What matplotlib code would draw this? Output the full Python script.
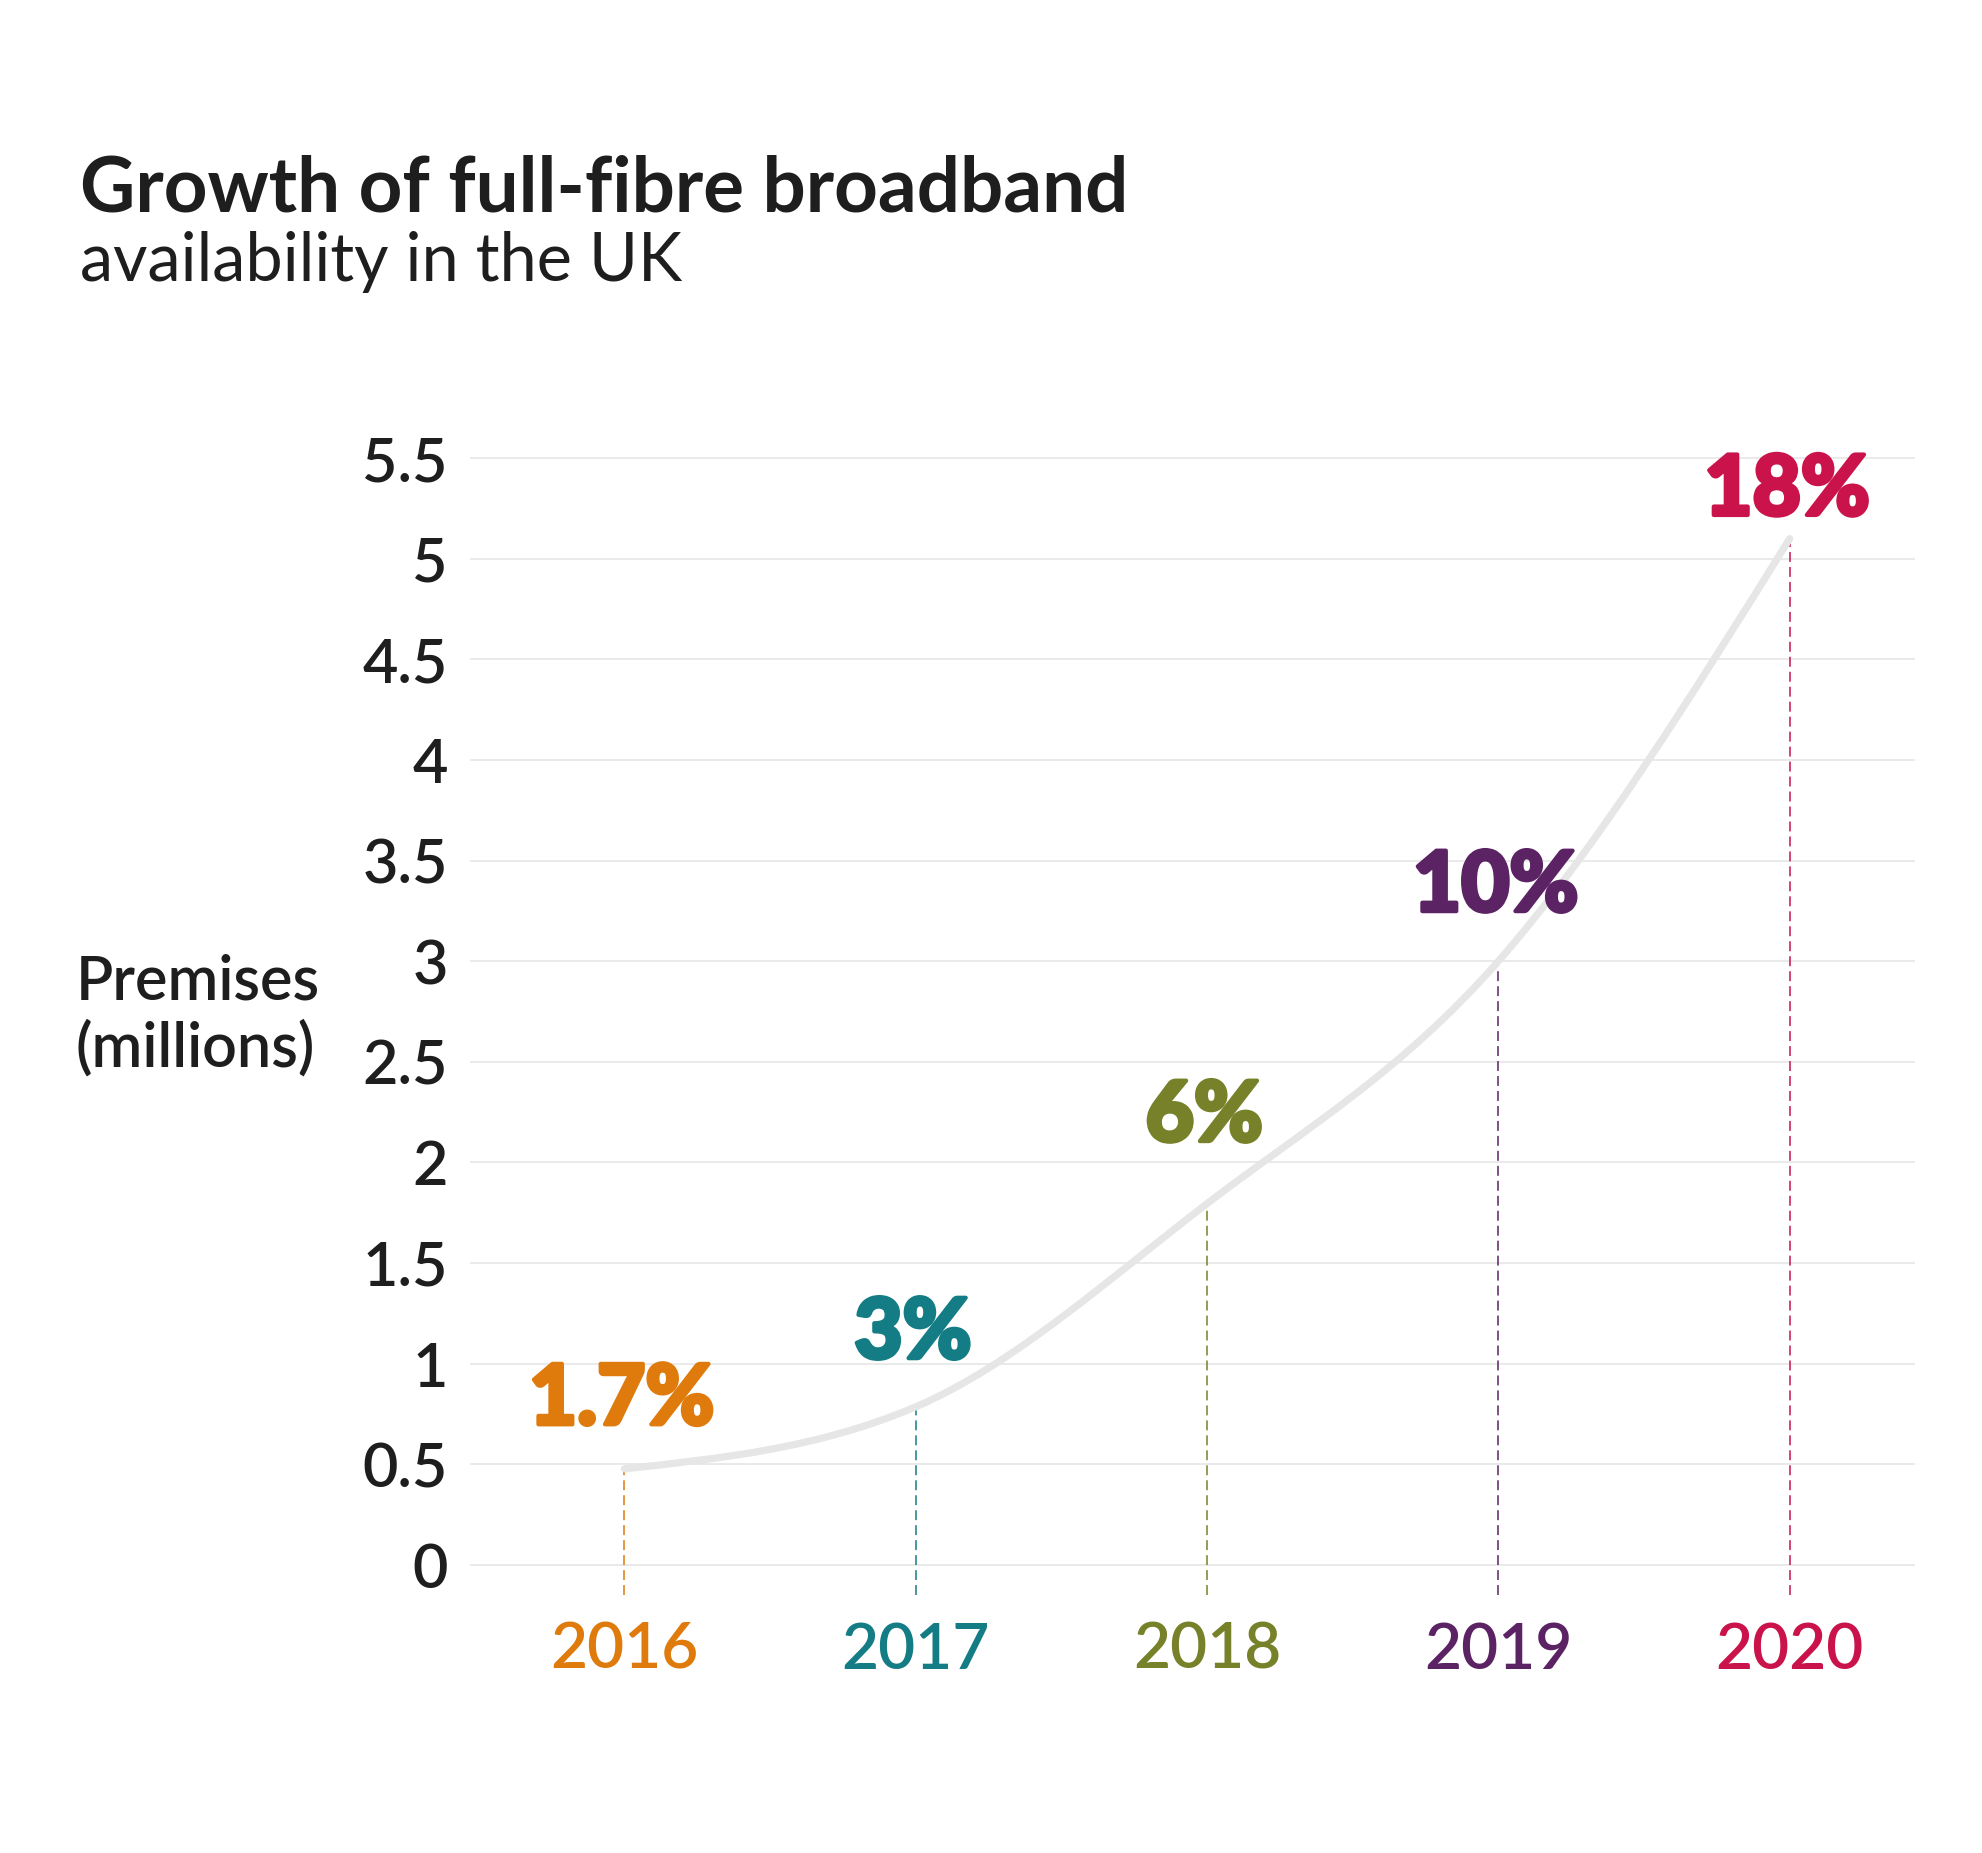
import matplotlib
matplotlib.use("Agg")
import matplotlib.pyplot as plt
import matplotlib.patheffects as pe
import numpy as np
from matplotlib.path import Path
from matplotlib.patches import PathPatch

# data
years = [2016, 2017, 2018, 2019, 2020]
premises_m = [0.477, 0.785, 1.795, 3.0, 5.10]
share_labels = ["1.7%", "3%", "6%", "10%", "18%"]
year_colors = ["#df7b0c", "#137c84", "#76812a", "#5b2363", "#c9134a"]
y_ticks = [0, 0.5, 1, 1.5, 2, 2.5, 3, 3.5, 4, 4.5, 5, 5.5]

TEXT = "#1e1e1e"
GRID = "#e6e6e6"
FONT = "Lato"


def monotone_path(xs, ys):
    """Monotone cubic (d3 curveMonotoneX style) as bezier path."""
    xs = np.asarray(xs, float)
    ys = np.asarray(ys, float)
    h = np.diff(xs)
    s = np.diff(ys) / h
    n = len(xs)
    t = np.zeros(n)
    for i in range(1, n - 1):
        p = (s[i - 1] * h[i] + s[i] * h[i - 1]) / (h[i - 1] + h[i])
        t[i] = (np.sign(s[i - 1]) + np.sign(s[i])) * min(abs(s[i - 1]), abs(s[i]), 0.5 * abs(p))
    t[0] = (3 * s[0] - t[1]) / 2
    t[-1] = (3 * s[-1] - t[-2]) / 2
    verts = [(xs[0], ys[0])]
    codes = [Path.MOVETO]
    for i in range(n - 1):
        dx = h[i] / 3
        verts += [(xs[i] + dx, ys[i] + dx * t[i]),
                  (xs[i + 1] - dx, ys[i + 1] - dx * t[i + 1]),
                  (xs[i + 1], ys[i + 1])]
        codes += [Path.CURVE4] * 3
    return Path(verts, codes)


W, H = 1982, 1853
fig = plt.figure(figsize=(W / 100, H / 100), dpi=100)
fig.patch.set_facecolor("white")

# axes placed in pixel terms
ax = fig.add_axes([470 / W, 1 - 1605 / H, 1445 / W, (1605 - 438) / H])
x = np.arange(len(years))
ax.set_xlim(-0.53, len(years) - 0.57)
ax.set_ylim(-0.2, 5.6)
for sp in ax.spines.values():
    sp.set_visible(False)

ax.set_yticks(y_ticks)
ax.set_yticklabels([f"{v:g}" for v in y_ticks], fontsize=44, color=TEXT,
                   family=FONT, fontweight="semibold")
ax.set_xticks(x)
ax.set_xticklabels([str(y) for y in years], fontsize=46, family=FONT,
                   fontweight="semibold")
for lbl, c in zip(ax.get_xticklabels(), year_colors):
    lbl.set_color(c)
ax.tick_params(axis="y", length=0, pad=16)
ax.tick_params(axis="x", length=0, pad=12)
ax.grid(axis="y", color=GRID, linewidth=1.2)
ax.set_axisbelow(True)

# dashed drop lines
for xi, v, c in zip(x, premises_m, year_colors):
    ax.plot([xi, xi], [-0.15, v], color=c, lw=1.1, ls=(0, (6.5, 3.3)),
            clip_on=False, zorder=2)

# smooth curve
curve = PathPatch(monotone_path(x, premises_m), facecolor="none", edgecolor=GRID,
                  lw=5.2, capstyle="round", joinstyle="round", zorder=3)
ax.add_patch(curve)

# percentage labels
label_dy = [32, 35, 45, 36, 17]  # points above the data value
for xi, v, lab, c, dy in zip(x, premises_m, share_labels, year_colors, label_dy):
    t = ax.annotate(lab, (xi, v), xytext=(-2, dy), textcoords="offset points",
                    ha="center", va="baseline", fontsize=60, fontweight="black",
                    color=c, family=FONT, annotation_clip=False, zorder=4)
    t.set_path_effects([pe.withStroke(linewidth=3, foreground=c)])

fig.text(80 / W, 1 - 212 / H, "Growth of full-fibre broadband", fontsize=55,
         fontweight="bold", color=TEXT, family=FONT, va="baseline")
fig.text(80 / W, 1 - 281 / H, "availability in the UK", fontsize=48,
         color=TEXT, family=FONT, va="baseline")
fig.text(76 / W, 1 - 1015 / H, "Premises\n(millions)", fontsize=44,
         color=TEXT, family=FONT, fontweight="semibold", va="center",
         ha="left", linespacing=1.2)

fig.savefig("out.png", dpi=100, facecolor="white")
